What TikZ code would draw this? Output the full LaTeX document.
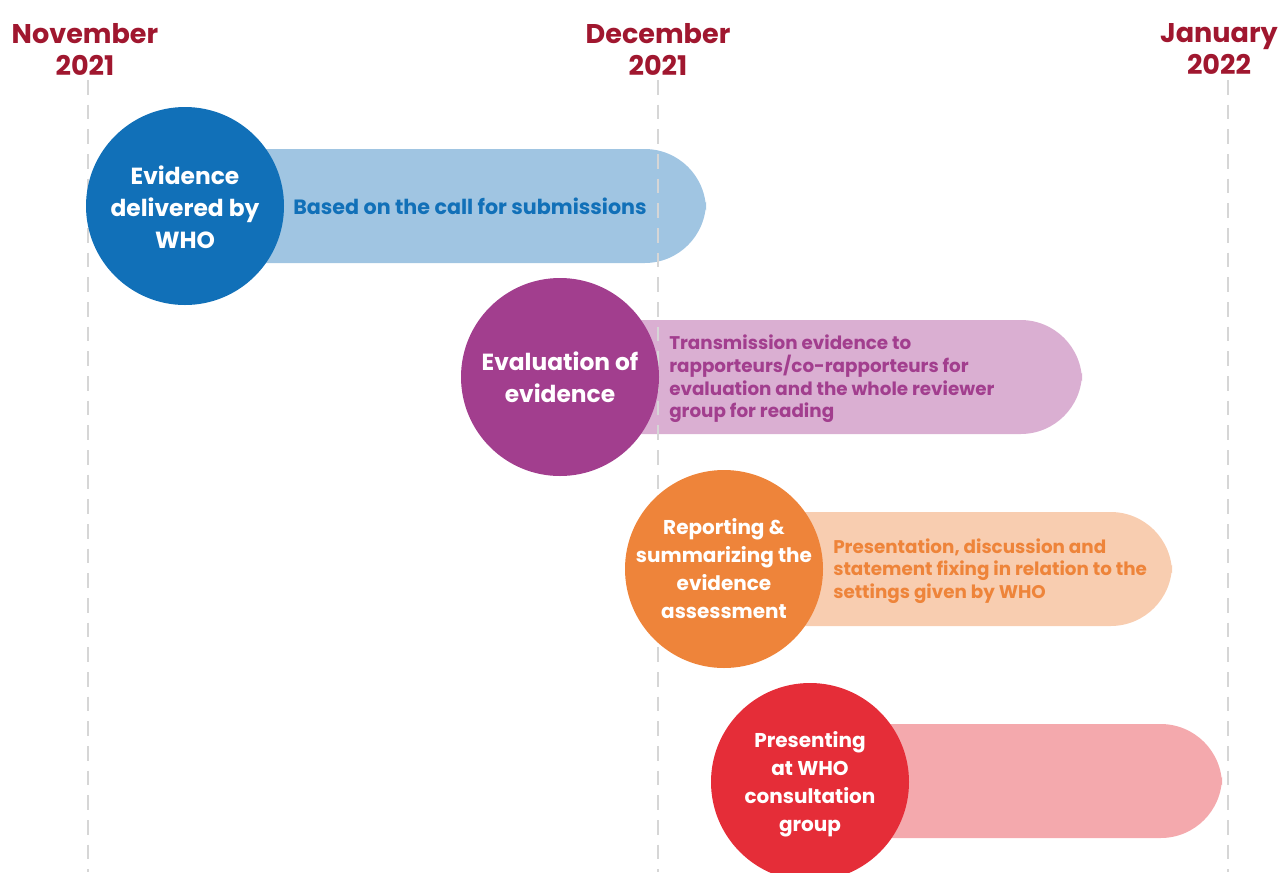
\documentclass[tikz,border=0pt]{standalone}
\usepackage{fontspec}
\setmainfont{Poppins}
\definecolor{titlered}{HTML}{A0172F}
\definecolor{cblue}{HTML}{1170B8}
\definecolor{bblue}{HTML}{A0C5E2}
\definecolor{cpurple}{HTML}{A23E8E}
\definecolor{bpurple}{HTML}{DAAFD2}
\definecolor{corange}{HTML}{EE843A}
\definecolor{borange}{HTML}{F8CDB0}
\definecolor{cred}{HTML}{E52D38}
\definecolor{bred}{HTML}{F4A9AD}
\definecolor{dashgray}{HTML}{D6D6D6}
\tikzset{
  monthlabel/.style={text=titlered, font=\fontsize{20.3}{24}\selectfont\bfseries, align=center, inner sep=0pt},
  phase/.style={circle, minimum size=148.5pt, inner sep=0pt},
  phasetext/.style={text=white, align=center, inner sep=0pt, font=\fontsize{17.5}{24}\selectfont\bfseries},
  phasetextsmall/.style={phasetext, font=\fontsize{15}{21}\selectfont\bfseries},
  bartext/.style={anchor=west, align=left, inner sep=0pt, font=\fontsize{13.75}{17}\selectfont\bfseries},
  guide/.style={dashgray, line width=1.5pt, dash pattern=on 11pt off 7.5pt},
}
\begin{document}
\begin{tikzpicture}[x=0.75pt,y=-0.75pt]
\useasboundingbox (0,0) rectangle (1278,872);
% bars
\fill[bblue] (185,149) [rounded corners=46] -- (706,149) -- (706,263) [sharp corners] -- (185,263) -- cycle;
\fill[bpurple] (560,320) [rounded corners=46] -- (1082,320) -- (1082,434) [sharp corners] -- (560,434) -- cycle;
\fill[borange] (724,512) [rounded corners=46] -- (1172,512) -- (1172,626) [sharp corners] -- (724,626) -- cycle;
\fill[bred] (810,724) [rounded corners=46] -- (1222,724) -- (1222,838) [sharp corners] -- (810,838) -- cycle;
% month labels and guides
\node[monthlabel] (nov) at (85,49) {November\\2021};
\node[monthlabel] (dec) at (658,49) {December\\2021};
\node[monthlabel] (jan) at (1219,49) {January\\2022};
\coordinate (novend) at (88,872);
\coordinate (decend) at (658,872);
\coordinate (janend) at (1228,872);
\draw[guide] (88,80) -- (novend);
\draw[guide] (658,80) -- (decend);
\draw[guide] (1228,80) -- (janend);
% bar texts
\node[bartext, text=cblue, font=\fontsize{15.5}{19}\selectfont\bfseries] (t1) at (293,206) {Based on the call for submissions};
\node[bartext, text=cpurple] (t2) at (669,379) {Transmission evidence to\\rapporteurs/co-rapporteurs for\\evaluation and the whole reviewer\\group for reading};
\node[bartext, text=corange] (t3) at (833,571) {Presentation, discussion and\\statement fixing in relation to the\\settings given by WHO};
% circles
\node[phase, fill=cblue] (p1) at (185,206) {};
\node[phasetext] (p1t) at (185,207) {Evidence\\delivered by\\WHO};
\node[phase, fill=cpurple] (p2) at (560,377) {};
\node[phasetext] (p2t) at (p2) {Evaluation of\\evidence};
\node[phase, fill=corange] (p3) at (724,569) {};
\node[phasetextsmall] (p3t) at (p3) {Reporting \&\\summarizing the\\evidence\\assessment};
\node[phase, fill=cred] (p4) at (810,782) {};
\node[phasetextsmall] (p4t) at (810,784) {Presenting\\at WHO\\consultation\\group};
\end{tikzpicture}
\end{document}
